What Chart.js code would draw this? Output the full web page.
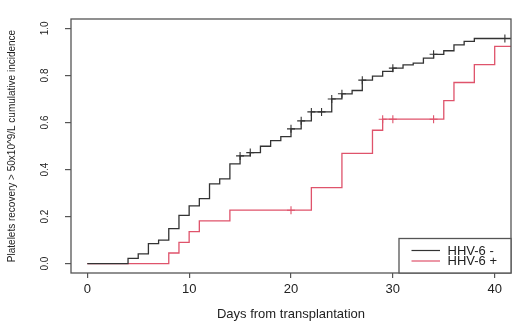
<!DOCTYPE html>
<html>
<head>
<meta charset="utf-8">
<script src="https://cdn.jsdelivr.net/npm/chart.js@4/dist/chart.umd.min.js"></script>
<style>
  html, body { margin: 0; padding: 0; background: #ffffff; }
  #wrap { width: 520px; height: 333px; }
</style>
</head>
<body>
<div id="wrap"><canvas id="c" width="520" height="333"></canvas></div>
<script>
// ---- data ----
const seriesNames = ['HHV-6 -', 'HHV-6 +'];

const negDays = [0, 4, 5, 6, 7, 8, 9, 10, 11, 12, 13, 14, 15, 16, 17, 18, 19, 20, 21, 22, 24, 25, 26, 27, 28, 29, 30, 31, 32, 33, 34, 35, 36, 37, 38, 41.6];
const negVals = [0, 0.022, 0.041, 0.085, 0.10, 0.149, 0.205, 0.245, 0.276, 0.339, 0.36, 0.424, 0.458, 0.472, 0.499, 0.523, 0.54, 0.573, 0.607, 0.645, 0.70, 0.722, 0.736, 0.78, 0.797, 0.817, 0.831, 0.845, 0.852, 0.874, 0.89, 0.905, 0.93, 0.945, 0.957, 0.957];
const negCensorDays = [15, 16, 20, 21, 22, 23, 24, 25, 27, 30, 34, 41];
const negCensorVals = [0.458, 0.472, 0.573, 0.607, 0.645, 0.645, 0.70, 0.722, 0.78, 0.831, 0.89, 0.957];

const posDays = [0, 8, 9, 10, 11, 14, 22, 25, 28, 29, 35, 36, 38, 40, 41.6];
const posVals = [0, 0.045, 0.09, 0.136, 0.182, 0.227, 0.323, 0.469, 0.567, 0.614, 0.693, 0.77, 0.846, 0.924, 0.924];
const posCensorDays = [20, 29, 30, 34];
const posCensorVals = [0.227, 0.614, 0.614, 0.614];

const xTicks = [0, 10, 20, 30, 40];
const yTicks = [0, 0.2, 0.4, 0.6, 0.8, 1.0];
const yTickLabels = ['0.0', '0.2', '0.4', '0.6', '0.8', '1.0'];

const xTitle = 'Days from transplantation';
const yTitle = 'Platelets recovery > 50x10^9/L cumulative incidence';

// ---- styling ----
const colNeg = '#333333';
const colPos = '#DF536B';
const axisCol = '#555555';
const FONT = "'Liberation Sans', Arial, sans-serif";

const zip = (xs, ys) => xs.map((x, i) => ({ x: x, y: ys[i] }));

const boxPlugin = {
  id: 'boxAndLegend',
  afterDatasetsDraw(chart) {
    const { ctx, chartArea: a } = chart;
    ctx.save();
    // plot frame
    ctx.strokeStyle = axisCol;
    ctx.lineWidth = 1.3;
    ctx.strokeRect(a.left, a.top, a.right - a.left, a.bottom - a.top);
    // legend (bottom right, inside plot)
    const lx = 399, ly = 238.5, lw = a.right - lx, lh = a.bottom - ly;
    ctx.fillStyle = '#ffffff';
    ctx.fillRect(lx, ly, lw, lh);
    ctx.strokeRect(lx, ly, lw, lh);
    const rows = [chart.data.datasets[0], chart.data.datasets[1]];
    ctx.font = '13px ' + FONT;
    ctx.textBaseline = 'middle';
    ctx.textAlign = 'left';
    rows.forEach((ds, i) => {
      const y = 250.5 + i * 10.5;
      ctx.strokeStyle = ds.borderColor;
      ctx.lineWidth = 1.2;
      ctx.beginPath();
      ctx.moveTo(411.5, y);
      ctx.lineTo(440, y);
      ctx.stroke();
      ctx.fillStyle = '#222222';
      ctx.fillText(ds.label, 447.5, y + 0.5);
    });
    ctx.restore();
  }
};

new Chart(document.getElementById('c'), {
  type: 'line',
  data: {
    datasets: [
      { label: seriesNames[0], data: zip(negDays, negVals), borderColor: colNeg, borderWidth: 1.3, stepped: 'before', pointRadius: 0, fill: false },
      { label: seriesNames[1], data: zip(posDays, posVals), borderColor: colPos, borderWidth: 1.3, stepped: 'before', pointRadius: 0, fill: false },
      { label: 'cens-', type: 'scatter', data: zip(negCensorDays, negCensorVals), showLine: false, pointStyle: 'cross', pointRadius: 4, borderColor: colNeg, backgroundColor: colNeg, pointBorderWidth: 1.1 },
      { label: 'cens+', type: 'scatter', data: zip(posCensorDays, posCensorVals), showLine: false, pointStyle: 'cross', pointRadius: 4, borderColor: colPos, backgroundColor: colPos, pointBorderWidth: 1.1 }
    ]
  },
  options: {
    responsive: false,
    devicePixelRatio: 1,
    animation: false,
    layout: { padding: { left: 0, right: 9, top: 7, bottom: 0 } },
    plugins: { legend: { display: false }, tooltip: { enabled: false } },
    scales: {
      x: {
        type: 'linear',
        min: -1.6,
        max: 41.6,
        afterBuildTicks: s => { s.ticks = xTicks.map(v => ({ value: v })); },
        afterFit: s => { s.height = 60; },
        grid: { drawOnChartArea: false, drawTicks: true, tickLength: 5, color: axisCol, lineWidth: 1.2 },
        border: { display: false },
        ticks: { font: { family: FONT, size: 13 }, color: '#222222', padding: 4, maxRotation: 0, callback: v => String(v) },
        title: { display: true, text: xTitle, font: { family: FONT, size: 13 }, color: '#222222', padding: { top: 0, bottom: 11 } }
      },
      y: {
        type: 'linear',
        min: -0.04,
        max: 1.04,
        afterBuildTicks: s => { s.ticks = yTicks.map(v => ({ value: v })); },
        afterFit: s => { s.width = 71; },
        grid: { drawOnChartArea: false, drawTicks: true, tickLength: 6, color: axisCol, lineWidth: 1.2 },
        border: { display: false },
        ticks: {
          font: { family: FONT, size: 10 }, color: '#222222', padding: 13,
          minRotation: 90, maxRotation: 90, crossAlign: 'center',
          callback: (v) => { const i = yTicks.findIndex(t => Math.abs(t - v) < 1e-9); return i >= 0 ? yTickLabels[i] : ''; }
        },
        title: { display: true, text: yTitle, font: { family: FONT, size: 10 }, color: '#222222', padding: { top: 6, bottom: 0 } }
      }
    }
  },
  plugins: [boxPlugin]
});
</script>
</body>
</html>
